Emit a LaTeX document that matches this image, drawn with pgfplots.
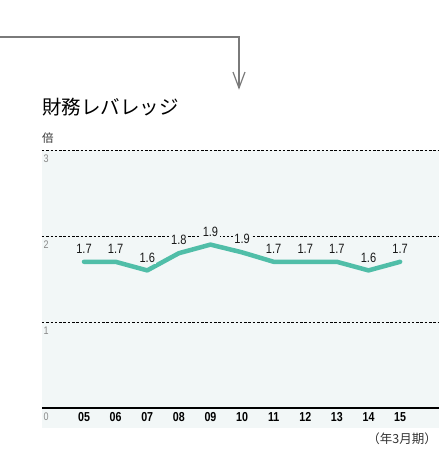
\documentclass[border=0pt]{standalone}
\usepackage{pgfplots}
\pgfplotsset{compat=1.18}
\usepackage{fontspec}
\setmainfont{Liberation Sans}
\newfontfamily\cond[FakeStretch=0.82]{Liberation Sans}
\newfontfamily\jp{Noto Sans CJK JP}
\definecolor{bg}{HTML}{F2F7F7}
\definecolor{lev}{HTML}{50BEA8}
\definecolor{arrowgray}{HTML}{7A7A7A}
\definecolor{ticklab}{HTML}{8A8A8A}

\begin{document}
\begin{tikzpicture}
\useasboundingbox (0pt,0pt) rectangle (439pt,-456pt);
% connector arrow from the previous panel
\draw[arrowgray, line width=1.2pt] (0pt,-37pt) -- (239pt,-37pt) -- (239pt,-88pt);
\draw[arrowgray, line width=1.2pt] (233pt,-72pt) -- (239pt,-88pt) -- (245pt,-72pt);
\node[anchor=west, inner sep=0pt, text=black, font=\jp\fontsize{19.5}{20}\selectfont] at (42pt,-107pt) {財務レバレッジ};
\node[anchor=west, inner sep=0pt, text=black!80, font=\jp\fontsize{11.5}{12}\selectfont] at (42pt,-138pt) {倍};
\node[anchor=east, inner sep=0pt, text=black!80, font=\jp\fontsize{12.5}{13}\selectfont] at (437pt,-439pt) {（年3月期）};
\fill[bg] (42pt,-150pt) rectangle (439pt,-428pt);
\begin{axis}[
  scale only axis, width=397pt, height=258pt,
  at={(42pt,-408pt)}, anchor=south west,
  xmin=3.671, xmax=16.23, ymin=0, ymax=3,
  axis line style={draw=none},
  major tick length=0pt,
  ytick={0,1,2,3},
  xtick={5,...,15},
  xticklabels={05,06,07,08,09,10,11,12,13,14,15},
  /pgf/number format/assume math mode=true,
  ymajorgrids,
  grid style={black, dash pattern=on 2.5pt off 1.8pt, line width=0.6pt},
  yticklabel style={anchor=north west, xshift=-2pt, yshift=-1pt, text=ticklab, font=\cond\fontsize{11}{11}\selectfont},
  xticklabel style={anchor=north, yshift=-1pt, text=black, font=\cond\bfseries\fontsize{13}{13}\selectfont},
  clip=false,
]
\addplot[lev, line width=4.5pt, line join=round, line cap=round, mark=none,
  nodes near coords, point meta=explicit symbolic,
  every node near coord/.append style={anchor=center, yshift=13pt, text=black!90,
    font=\cond\fontsize{13.5}{13.5}\selectfont, fill=bg, inner sep=1.5pt}]
coordinates {
  (5,1.7) [1.7]
  (6,1.7) [1.7]
  (7,1.6) [1.6]
  (8,1.8) [1.8]
  (9,1.9) [1.9]
  (10,1.81) [1.9]
  (11,1.7) [1.7]
  (12,1.7) [1.7]
  (13,1.7) [1.7]
  (14,1.6) [1.6]
  (15,1.7) [1.7]
};
\draw[black, line width=1.6pt] (rel axis cs:0,0) -- (rel axis cs:1,0);
\end{axis}
\end{tikzpicture}
\end{document}
